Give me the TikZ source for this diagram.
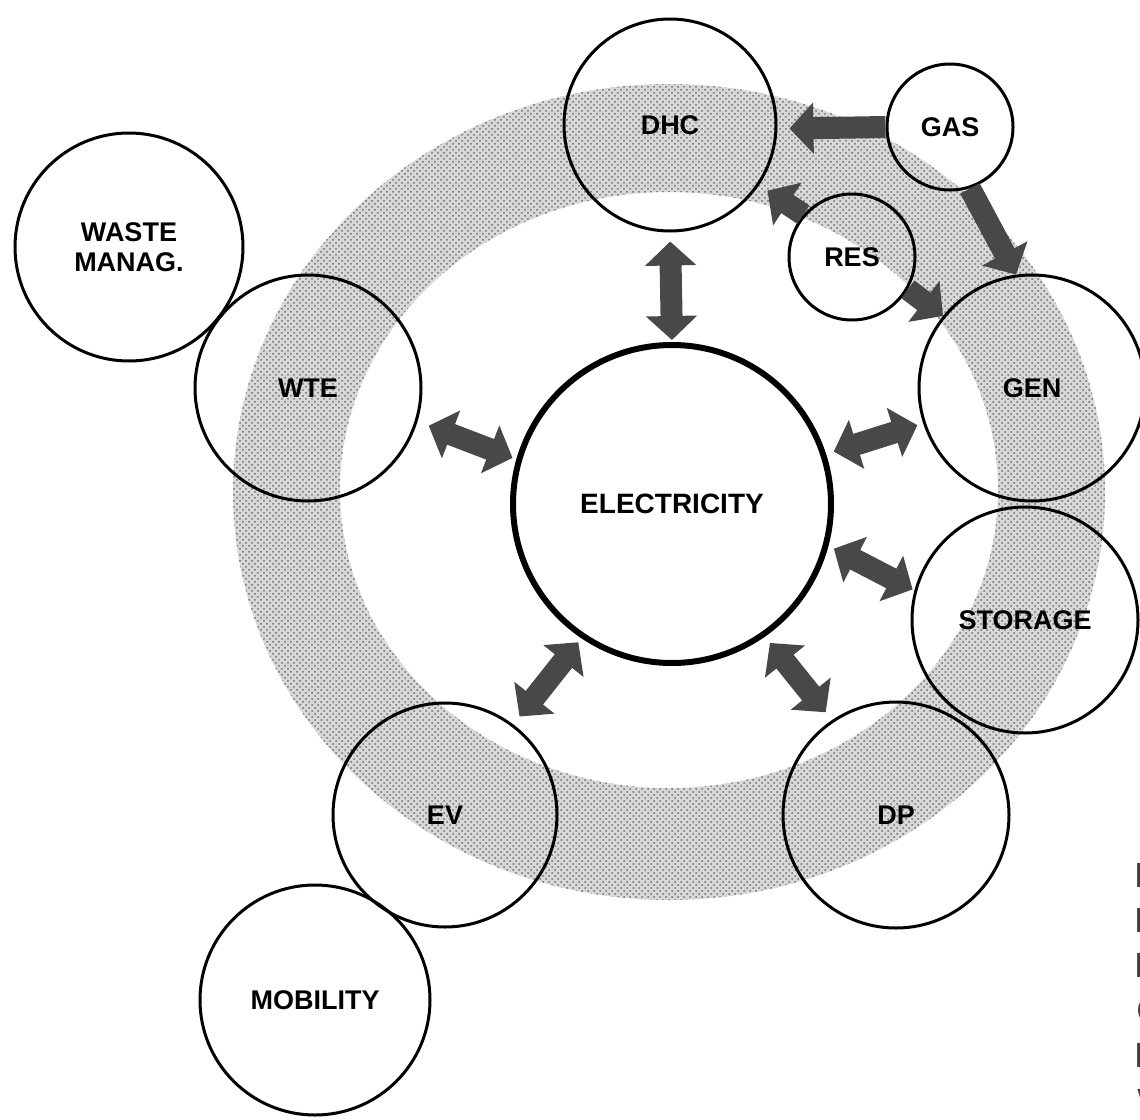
\documentclass[tikz,border=0pt]{standalone}
\usepackage{fontspec}
\setmainfont{Liberation Sans}
\usetikzlibrary{arrows.meta,patterns}
\definecolor{arr}{RGB}{72,72,72}
\definecolor{ringgray}{RGB}{216,216,216}
\begin{document}
\begin{tikzpicture}[x=0.5pt,y=-0.5pt,
  circ/.style={circle,draw=black,line width=1.5pt,inner sep=0pt,align=center,
    font=\fontsize{13.5}{15}\selectfont\bfseries},
  bigarrow/.style={draw=arr,line width=11pt,-{Triangle[width=25pt,length=12pt]}},
  dblarrow/.style={draw=arr,line width=11pt,{Triangle[width=25pt,length=12pt]}-{Triangle[width=25pt,length=12pt]}},
  edge letter/.style={anchor=base west,inner sep=0pt,text=black!75,font=\fontsize{17.5}{17.5}\selectfont}]
\useasboundingbox (0,0) rectangle (1140,1119);
% textured ring
\fill[ringgray,even odd rule] (669,492) ellipse [x radius=218pt, y radius=204pt]
      (669,490) ellipse [x radius=164.5pt, y radius=149pt];
\fill[pattern=crosshatch dots,pattern color=gray!85!black,even odd rule]
      (669,492) ellipse [x radius=218pt, y radius=204pt]
      (669,490) ellipse [x radius=164.5pt, y radius=149pt];
% nodes
\node[circ,line width=3pt,minimum size=159pt,font=\fontsize{14}{16}\selectfont\bfseries] (elec) at (672,504) {ELECTRICITY};
\node[circ,minimum size=106pt] (dhc) at (670,125) {DHC};
\node[circ,minimum size=63pt] (gas) at (950,127) {GAS};
\node[circ,minimum size=63pt] (res) at (852,257) {RES};
\node[circ,minimum size=113pt] (gen) at (1032,388) {GEN};
\node[circ,minimum size=113pt] (storage) at (1025,620) {STORAGE};
\node[circ,minimum size=113pt] (dp) at (896,815) {DP};
\node[circ,minimum size=112pt] (ev) at (445,815) {EV};
\node[circ,minimum size=115pt] (mobility) at (315,1000) {MOBILITY};
\node[circ,minimum size=113pt] (wte) at (308,388) {WTE};
\node[circ,minimum size=114pt] (waste) at (129,247) {WASTE\\MANAG.};
% connectors
\draw[dblarrow,shorten <=4.5pt,shorten >=1pt] (dhc.-90) -- (elec.90);
\draw[dblarrow,shorten <=6pt,shorten >=2pt] (wte.-17) -- (elec.164);
\draw[dblarrow,shorten <=4pt,shorten >=3pt] (elec.18) -- (gen.-162);
\draw[dblarrow,shorten <=3pt,shorten >=1pt] (elec.-15) -- (storage.165);
\draw[dblarrow,shorten <=2.5pt,shorten >=5pt] (elec.-124) -- (ev.53);
\draw[dblarrow,shorten <=4pt,shorten >=5pt] (elec.-55) -- (dp.124);
\draw[bigarrow,shorten >=6pt] (gas.180) -- (dhc.-2);
\draw[bigarrow] (gas.-72) -- (gen.98);
\draw[bigarrow,shorten >=5pt] (res.139) -- (dhc.-34);
\draw[bigarrow] (res.-30) -- (gen.141);
% letters cut by the right edge, as in the reference
\begin{scope}
\clip (0,0) rectangle (1140,1119);
\node[edge letter] (l1) at (1134,887) {E};
\node[edge letter] (l2) at (1134,932) {E};
\node[edge letter] (l3) at (1134,977) {E};
\node[edge letter] (l4) at (1136,1022) {C};
\node[edge letter] (l5) at (1134,1067) {E};
\node[edge letter] (l6) at (1137,1113) {W};
\end{scope}
\end{tikzpicture}
\end{document}
